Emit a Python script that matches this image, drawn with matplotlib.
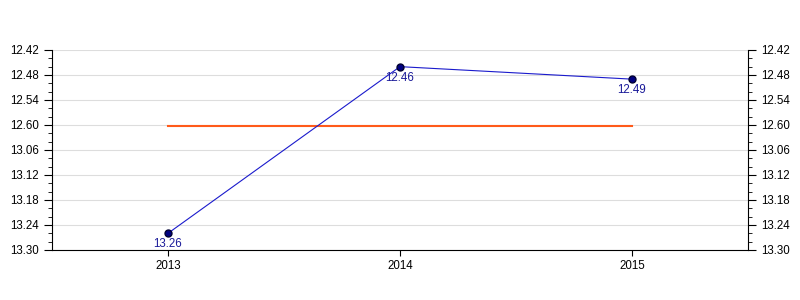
import matplotlib.pyplot as plt
import numpy as np

plt.rcParams['font.family'] = ['Liberation Sans', 'DejaVu Sans']

# data: race times in seconds (labels shown as m.ss)
years = [2013, 2014, 2015]
times = [806, 766, 769]
time_labels = ['13.26', '12.46', '12.49']
target = 780.3
yticks = [762, 768, 774, 780, 786, 792, 798, 804, 810]
ytick_labels = ['12.42', '12.48', '12.54', '12.60', '13.06', '13.12', '13.18', '13.24', '13.30']

fig = plt.figure(figsize=(8, 3), dpi=100)
ax = fig.add_axes([0.065, 0.1667, 0.87, 0.6667])

ax.plot([years[0], years[-1]], [target, target], color='#ff5a1a', lw=1.5, zorder=2)
ax.plot(years, times, color='#1a1acc', lw=0.8, marker='o', ms=5,
        mfc='#000080', mec='#000033', zorder=3)
for x, y, s in zip(years, times, time_labels):
    ax.text(x, y + 1.2, s, ha='center', va='top', fontsize=8.3, color='#1a1a99')

ax.set_xlim(2012.5, 2015.5)
ax.set_ylim(810, 762)
ax.set_xticks(years)
ax.set_xticklabels([str(y) for y in years])
ax.set_yticks(yticks)
ax.set_yticklabels(ytick_labels)
ax.set_yticks(np.arange(762, 811, 2), minor=True)
ax.tick_params(axis='y', which='both', left=True, right=True, labelleft=True,
               labelright=True, direction='out', labelsize=8.3)
ax.tick_params(axis='y', which='major', length=6)
ax.tick_params(axis='y', which='minor', length=3)
ax.tick_params(axis='x', length=4, labelsize=8.3)
ax.grid(axis='y', which='major', color='#dddddd', lw=0.8)
ax.set_axisbelow(True)
ax.spines['top'].set_visible(False)
for sp in ['left', 'right', 'bottom']:
    ax.spines[sp].set_linewidth(0.8)

fig.savefig('out.png', dpi=100)
